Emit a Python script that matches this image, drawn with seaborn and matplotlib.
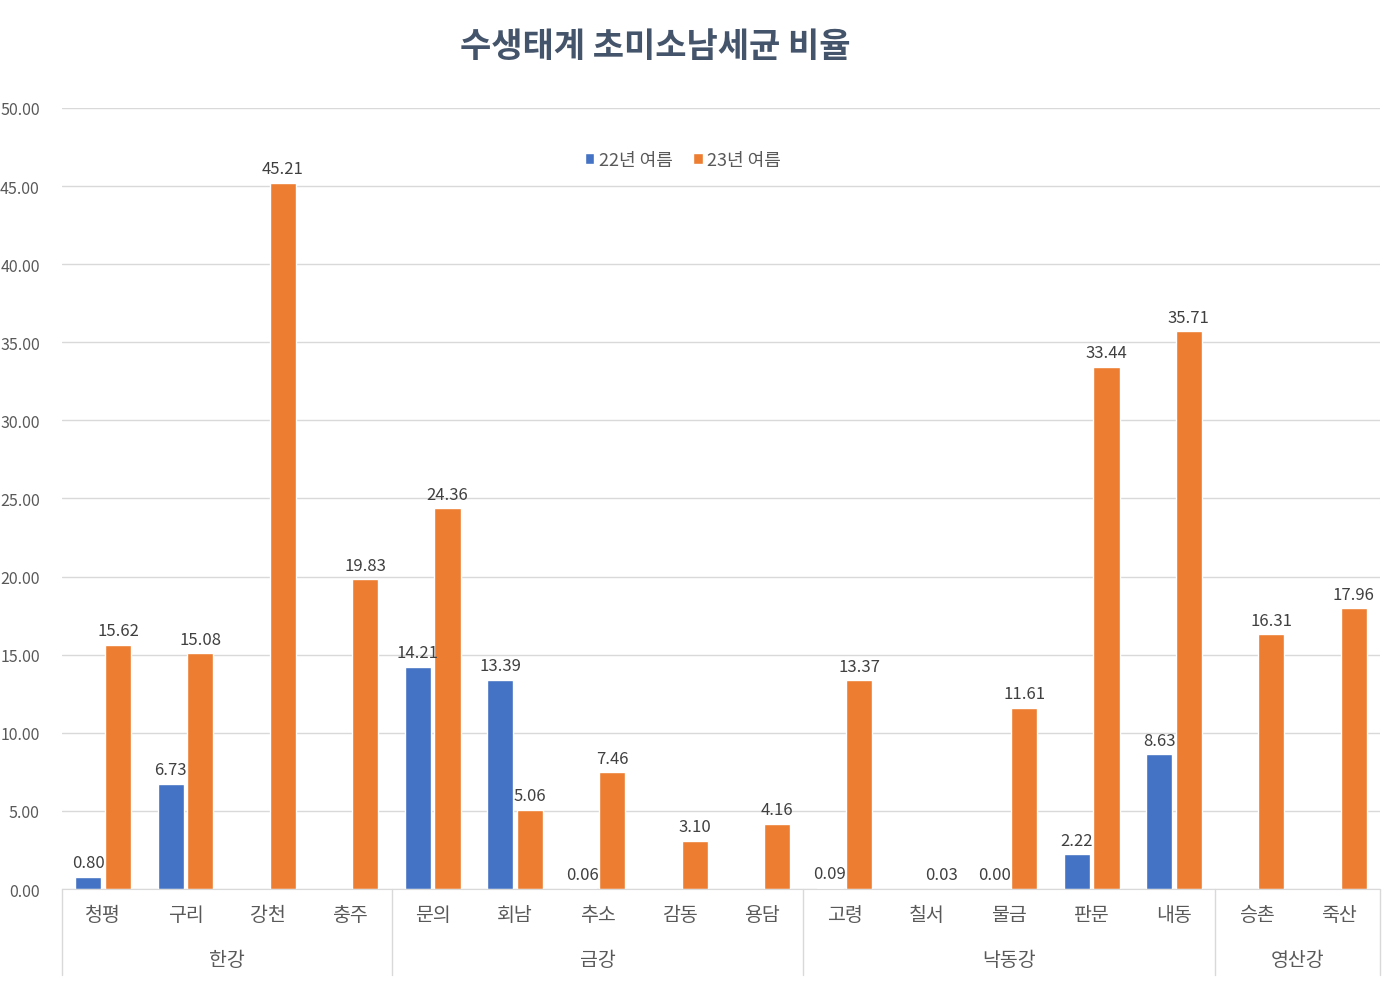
import numpy as np
import pandas as pd
import matplotlib.pyplot as plt
import seaborn as sns

# 측정 지점 / 수계
sites = ['청평', '구리', '강천', '충주',
         '문의', '회남', '추소', '감동', '용담',
         '고령', '칠서', '물금', '판문', '내동',
         '승촌', '죽산']
rivers = ['한강', '금강', '낙동강', '영산강']
river_sizes = [4, 5, 5, 2]

# 초미소남세균 비율 (%), 값이 없는 곳은 NaN
y22 = [0.80, 6.73, np.nan, np.nan,
       14.21, 13.39, 0.06, np.nan, np.nan,
       0.09, np.nan, 0.00, 2.22, 8.63,
       np.nan, np.nan]
y23 = [15.62, 15.08, 45.21, 19.83,
       24.36, 5.06, 7.46, 3.10, 4.16,
       13.37, 0.03, 11.61, 33.44, 35.71,
       16.31, 17.96]
series = ['22년 여름', '23년 여름']

df = pd.DataFrame({
    'site': sites * 2,
    'value': y22 + y23,
    'season': [series[0]] * len(sites) + [series[1]] * len(sites),
})

sns.set_style('white')
plt.rcParams['font.family'] = ['Noto Sans CJK KR', 'DejaVu Sans']

fig = plt.figure(figsize=(14, 9.95), dpi=100)
ax = fig.add_axes([0.0443, 0.1055, 0.9414, 0.785])

sns.barplot(data=df, x='site', y='value', hue='season', order=sites,
            hue_order=series, palette=['#4472C4', '#ED7D31'],
            width=0.72, gap=0.12, ax=ax, saturation=1)

# 데이터 레이블
for cont in ax.containers:
    labels = []
    for b in cont:
        h = b.get_height()
        labels.append('' if np.isnan(h) else f'{h:.2f}')
    ax.bar_label(cont, labels=labels, padding=4, fontsize=12, color='#404040')

ax.set_ylim(0, 50)
ax.set_yticks(np.arange(0, 50.01, 5))
ax.set_yticklabels([f'{v:.2f}' for v in np.arange(0, 50.01, 5)], fontsize=11.5, color='#595959')
ax.set_xlim(-0.5, len(sites) - 0.5)
ax.yaxis.grid(True, color='#D9D9D9', linewidth=1)
ax.set_axisbelow(True)
for s in ['top', 'right', 'left']:
    ax.spines[s].set_visible(False)
ax.spines['bottom'].set_color('#D9D9D9')
ax.tick_params(axis='y', length=0, pad=16)
ax.tick_params(axis='x', length=0, pad=11, labelsize=14, labelcolor='#595959')
ax.set_xlabel('')
ax.set_ylabel('')

# 수계 구분선과 이름
trans = ax.get_xaxis_transform()
start = 0
edges = [-0.5]
for name, n in zip(rivers, river_sizes):
    mid = start + (n - 1) / 2
    ax.text(mid, -0.09, name, transform=trans, ha='center', va='center',
            fontsize=14, color='#595959')
    start += n
    edges.append(start - 0.5)
for e in edges:
    ax.plot([e, e], [0, -0.11], transform=trans, color='#D9D9D9',
            linewidth=1, clip_on=False)

leg = ax.legend(loc='center', bbox_to_anchor=(0.471, 0.933), ncol=2,
                frameon=False, fontsize=13, handlelength=0.55,
                handleheight=0.55, handletextpad=0.25, columnspacing=1.1)
for t in leg.get_texts():
    t.set_color('#595959')

fig.text(0.468, 0.953, '수생태계 초미소남세균 비율', ha='center', va='center',
         fontsize=24.5, fontweight='bold', color='#44546A')

fig.savefig('out.png', dpi=100)
